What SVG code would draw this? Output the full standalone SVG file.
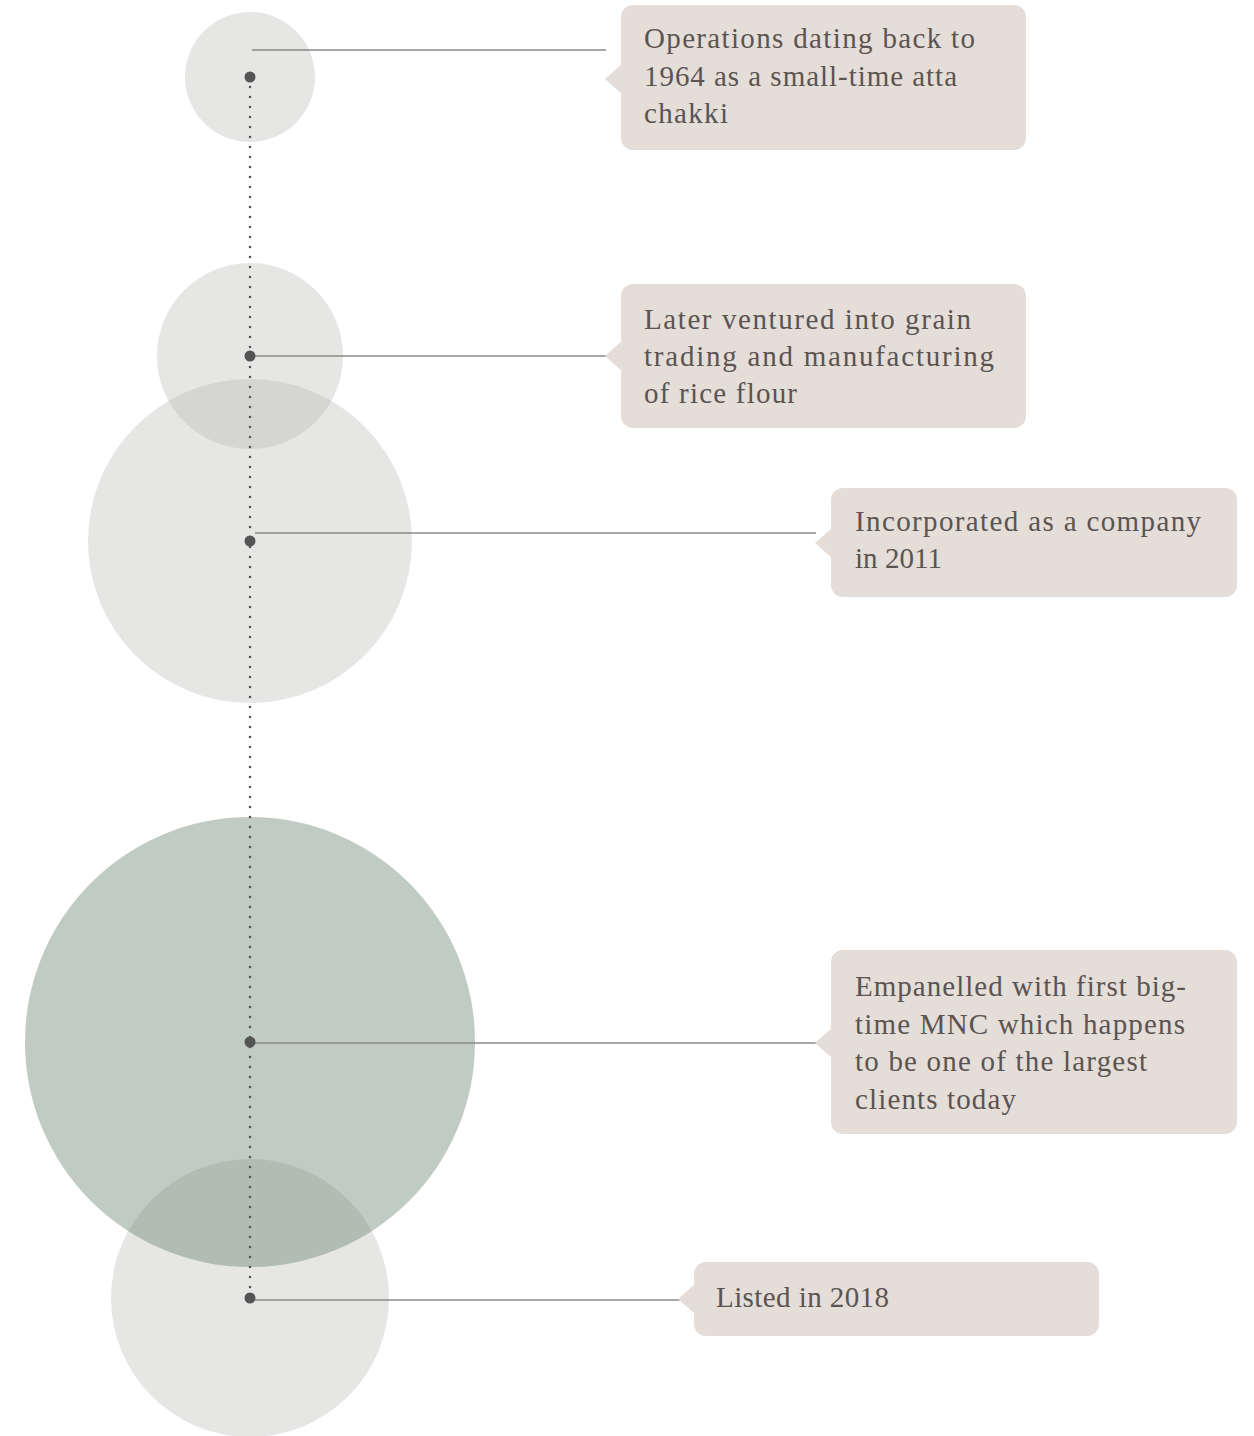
<svg xmlns="http://www.w3.org/2000/svg" width="1254" height="1436" viewBox="0 0 1254 1436">
<style>
.gc{fill:#b1b1ae;fill-opacity:0.32}
.grc{fill:#627d69;fill-opacity:0.4}
.box{fill:#e5ddd7}
.lbl{font-family:"Liberation Serif","DejaVu Serif",serif;font-size:29px;fill:#5a5452}
.hl{stroke:#8a8a88;stroke-width:1.6;fill:none}
.dot{fill:#545454}
</style>
<rect width="1254" height="1436" fill="#ffffff"/>
<g id="circles">
<circle class="gc" cx="250" cy="77" r="65"/>
<circle class="gc" cx="250" cy="356" r="93"/>
<circle class="gc" cx="250" cy="541" r="162"/>
<circle class="gc" cx="250" cy="1298" r="139"/>
<circle class="grc" cx="250" cy="1042" r="225"/>
</g>
<g id="connectors">
<line x1="250" y1="77" x2="250" y2="1298" stroke="#545454" stroke-width="2.6" stroke-linecap="round" stroke-dasharray="0 10"/>
<line class="hl" x1="252" y1="50" x2="606" y2="50"/>
<line class="hl" x1="250" y1="356" x2="606" y2="356"/>
<line class="hl" x1="255" y1="533" x2="816" y2="533"/>
<line class="hl" x1="250" y1="1043" x2="816" y2="1043"/>
<line class="hl" x1="250" y1="1300" x2="680" y2="1300"/>
</g>
<g id="dots">
<circle class="dot" cx="250" cy="77" r="5.5"/>
<circle class="dot" cx="250" cy="356" r="5.5"/>
<circle class="dot" cx="250" cy="541" r="5.5"/>
<circle class="dot" cx="250" cy="1042" r="5.5"/>
<circle class="dot" cx="250" cy="1298" r="5.5"/>
</g>
<g id="node1">
<rect class="box" x="621" y="5" width="405" height="145" rx="12"/>
<polygon class="box" points="605,79 622,64 622,94"/>
<text class="lbl" x="644" y="48" textLength="331" lengthAdjust="spacing">Operations dating back to</text>
<text class="lbl" x="644" y="86" textLength="313" lengthAdjust="spacing">1964 as a small-time atta</text>
<text class="lbl" x="644" y="123" textLength="84" lengthAdjust="spacing">chakki</text>
</g>
<g id="node2">
<rect class="box" x="621" y="284" width="405" height="144" rx="12"/>
<polygon class="box" points="605,356 622,341 622,371"/>
<text class="lbl" x="644" y="329" textLength="327" lengthAdjust="spacing">Later ventured into grain</text>
<text class="lbl" x="644" y="366" textLength="350" lengthAdjust="spacing">trading and manufacturing</text>
<text class="lbl" x="644" y="403" textLength="153" lengthAdjust="spacing">of rice flour</text>
</g>
<g id="node3">
<rect class="box" x="831" y="488" width="406" height="109" rx="12"/>
<polygon class="box" points="815,543 832,528 832,558"/>
<text class="lbl" x="855" y="531" textLength="346" lengthAdjust="spacing">Incorporated as a company</text>
<text class="lbl" x="855" y="568" textLength="87" lengthAdjust="spacing">in 2011</text>
</g>
<g id="node4">
<rect class="box" x="831" y="950" width="406" height="184" rx="12"/>
<polygon class="box" points="815,1043 832,1028 832,1058"/>
<text class="lbl" x="855" y="996" textLength="331" lengthAdjust="spacing">Empanelled with first big-</text>
<text class="lbl" x="855" y="1034" textLength="330" lengthAdjust="spacing">time  MNC which happens</text>
<text class="lbl" x="855" y="1071" textLength="292" lengthAdjust="spacing">to be one of the largest</text>
<text class="lbl" x="855" y="1109" textLength="161" lengthAdjust="spacing">clients today</text>
</g>
<g id="node5">
<rect class="box" x="694" y="1262" width="405" height="74" rx="12"/>
<polygon class="box" points="678,1299 695,1284 695,1314"/>
<text class="lbl" x="716" y="1307" textLength="173" lengthAdjust="spacing">Listed in 2018</text>
</g>
</svg>
